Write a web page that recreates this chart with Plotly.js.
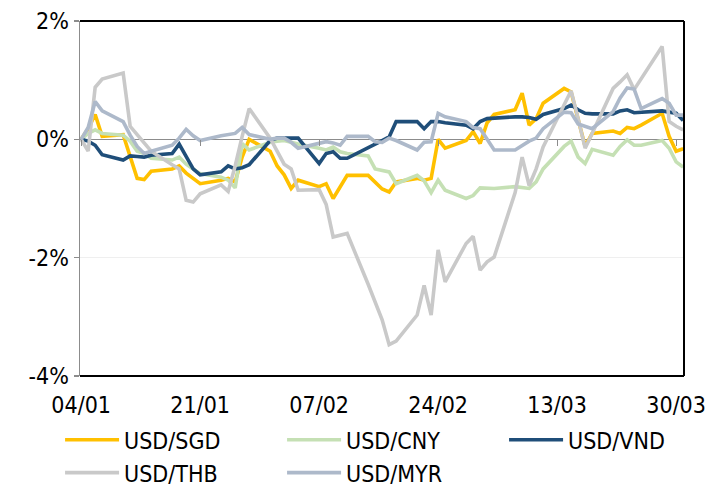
<!DOCTYPE html>
<html>
<head>
<meta charset="utf-8">
<script src="https://cdn.plot.ly/plotly-3.0.1.min.js"></script>
<style>html,body{margin:0;padding:0;background:#fff;}#chart{width:723px;height:487px;}</style>
</head>
<body>
<div id="chart"></div>
<script>
// Business days (2022)
var dates = ['2022-01-04','2022-01-05','2022-01-06','2022-01-07','2022-01-10','2022-01-11','2022-01-12','2022-01-13','2022-01-14','2022-01-17','2022-01-18','2022-01-19','2022-01-20','2022-01-21','2022-01-24','2022-01-25','2022-01-26','2022-01-27','2022-01-28','2022-01-31',
'2022-02-01','2022-02-02','2022-02-03','2022-02-04','2022-02-07','2022-02-08','2022-02-09','2022-02-10','2022-02-11','2022-02-14','2022-02-15','2022-02-16','2022-02-17','2022-02-18','2022-02-21','2022-02-22','2022-02-23','2022-02-24','2022-02-25','2022-02-28',
'2022-03-01','2022-03-02','2022-03-03','2022-03-04','2022-03-07','2022-03-08','2022-03-09','2022-03-10','2022-03-11','2022-03-14','2022-03-15','2022-03-16','2022-03-17','2022-03-18','2022-03-21','2022-03-22','2022-03-23','2022-03-24','2022-03-25','2022-03-28','2022-03-29','2022-03-30','2022-03-31'];

// % change since 04/01
var usdSgd = [0,0.18,0.42,0.05,0.08,-0.3,-0.66,-0.68,-0.54,-0.5,-0.45,-0.57,-0.66,-0.75,-0.69,-0.66,-0.72,-0.3,0.0,-0.2,
-0.45,-0.6,-0.83,-0.69,-0.8,-0.75,-1.0,-0.8,-0.61,-0.61,-0.72,-0.84,-0.89,-0.72,-0.66,-0.69,-0.66,0.0,-0.15,-0.02,
0.13,-0.07,0.28,0.42,0.5,0.78,0.24,0.35,0.61,0.86,0.8,0.35,-0.12,0.1,0.14,0.1,0.2,0.18,0.24,0.44,0.05,-0.2,-0.16];

var usdCny = [0,0.1,0.16,0.1,0.07,-0.03,-0.2,-0.24,-0.32,-0.35,-0.3,-0.42,-0.5,-0.58,-0.64,-0.69,-0.82,-0.07,-0.18,-0.05,
-0.03,-0.02,-0.05,-0.08,-0.15,-0.18,-0.13,-0.21,-0.24,-0.28,-0.5,-0.53,-0.55,-0.75,-0.61,-0.7,-0.9,-0.69,-0.86,-1.0,
-0.95,-0.82,-0.82,-0.83,-0.8,-0.82,-0.83,-0.72,-0.5,-0.12,-0.03,-0.3,-0.41,-0.17,-0.27,-0.12,-0.01,-0.1,-0.1,-0.02,-0.15,-0.38,-0.47];

var usdVnd = [0,-0.03,-0.1,-0.26,-0.35,-0.28,-0.29,-0.3,-0.27,-0.24,-0.08,-0.3,-0.5,-0.6,-0.55,-0.45,-0.5,-0.48,-0.43,-0.02,
0.02,0.02,0.02,0.02,-0.41,-0.24,-0.21,-0.32,-0.32,-0.15,-0.08,-0.02,0.04,0.3,0.3,0.18,0.3,0.3,0.28,0.24,
0.18,0.3,0.35,0.36,0.38,0.38,0.37,0.34,0.42,0.52,0.58,0.5,0.44,0.43,0.43,0.48,0.5,0.45,0.46,0.48,0.46,0.44,0.32];

var usdThb = [0,-0.2,0.88,1.02,1.12,0.22,0.08,-0.07,-0.2,-0.43,-0.5,-1.03,-1.06,-0.92,-0.77,-0.88,-0.45,0.05,0.52,0.02,
-0.2,-0.42,-0.5,-0.86,-0.85,-1.1,-1.65,-1.62,-1.59,-2.45,-2.75,-3.05,-3.47,-3.41,-2.97,-2.47,-2.97,-1.87,-2.41,-1.76,
-1.64,-2.21,-2.07,-1.99,-0.9,-0.3,-0.78,-0.5,-0.13,0.6,0.82,0.35,-0.15,0.1,0.86,0.97,1.09,0.84,1.02,1.57,0.3,0.22,0.16];

var usdMyr = [0,0.2,0.64,0.48,0.3,0.07,-0.12,-0.24,-0.2,-0.1,0.02,0.17,0.06,-0.02,0.06,0.08,0.1,0.2,0.08,0.0,
0.02,0.02,-0.05,-0.15,-0.06,-0.04,-0.06,-0.1,0.05,0.05,-0.04,-0.05,0.02,-0.02,-0.18,-0.05,-0.04,0.44,0.38,0.3,
0.2,0.18,0.0,-0.18,-0.18,-0.1,-0.03,0.02,0.18,0.46,0.45,0.26,0.22,0.18,0.47,0.7,0.87,0.85,0.52,0.69,0.61,0.41,0.41];

var seriesNames = ['USD/SGD','USD/CNY','USD/VND','USD/THB','USD/MYR'];
var seriesColors = ['#FFC000','#C5E0B4','#1F4E79','#C9C9C9','#ADB9CA'];
var seriesValues = [usdSgd, usdCny, usdVnd, usdThb, usdMyr];

var xTickDates = ['2022-01-04','2022-01-21','2022-02-07','2022-02-24','2022-03-13','2022-03-30'];
var xTickLabels = ['04/01','21/01','07/02','24/02','13/03','30/03'];
var yTickVals = [-4,-2,0,2];
var yTickLabels = ['-4%','-2%','0%','2%'];

var xRange = ['2022-01-03 20:00','2022-03-31 03:00'];
var fontFam = '"DejaVu Sans Condensed", "DejaVu Sans", sans-serif';

var traces = seriesNames.map(function(n, i){
  return {x: dates, y: seriesValues[i], name: n, type: 'scatter', mode: 'lines',
          line: {color: seriesColors[i], width: 3.6}, hoverinfo: 'skip'};
});
// invisible trace to carry the zero-line tick axis
traces.push({x: dates, y: usdSgd, xaxis: 'x2', type: 'scatter', mode: 'lines',
             opacity: 0, showlegend: false, hoverinfo: 'skip'});

var gray = '#8C8C8C';
var layout = {
  width: 723, height: 487,
  margin: {l: 80, r: 39, t: 21, b: 111, pad: 0, autoexpand: false},
  paper_bgcolor: '#fff', plot_bgcolor: '#fff',
  font: {family: fontFam, size: 23, color: '#000'},
  showlegend: true,
  xaxis: {type: 'date', range: xRange, tickvals: xTickDates, ticktext: xTickLabels,
          ticks: '', showgrid: false, showline: false, zeroline: false,
          ticklabelstandoff: 13, tickfont: {size: 23}},
  xaxis2: {type: 'date', overlaying: 'x', anchor: 'free', position: 2/3, range: xRange,
           tickvals: xTickDates, ticks: 'outside', ticklen: 6, tickwidth: 1.2, tickcolor: gray,
           showticklabels: false, showgrid: false, showline: false, zeroline: false},
  yaxis: {range: [-4, 2], tickvals: yTickVals, ticktext: yTickLabels,
          ticks: 'outside', ticklen: 5, tickwidth: 1.2, tickcolor: gray,
          showline: true, linecolor: gray, linewidth: 1.5,
          showgrid: true, gridcolor: '#EFEFEF', gridwidth: 1,
          zeroline: true, zerolinecolor: gray, zerolinewidth: 1.5,
          tickfont: {size: 23}},
  shapes: [
    {type: 'line', xref: 'paper', yref: 'paper', x0: 0, x1: 1, y0: 1, y1: 1, line: {color: '#000', width: 2}, layer: 'above'},
    {type: 'line', xref: 'paper', yref: 'paper', x0: 1, x1: 1, y0: 0, y1: 1, line: {color: '#000', width: 2}, layer: 'above'},
    {type: 'line', xref: 'paper', yref: 'paper', x0: 0, x1: 1, y0: 0, y1: 0, line: {color: '#000', width: 2}, layer: 'above'}
  ],
  legend: {orientation: 'h', x: -0.033, xanchor: 'left', y: -0.119, yanchor: 'top',
           font: {size: 23}, entrywidth: 153, entrywidthmode: 'pixels', itemwidth: 54,
           bgcolor: 'rgba(0,0,0,0)', borderwidth: 0, traceorder: 'normal'}
};

Plotly.newPlot('chart', traces, layout, {staticPlot: true, displayModeBar: false});
</script>
</body>
</html>
